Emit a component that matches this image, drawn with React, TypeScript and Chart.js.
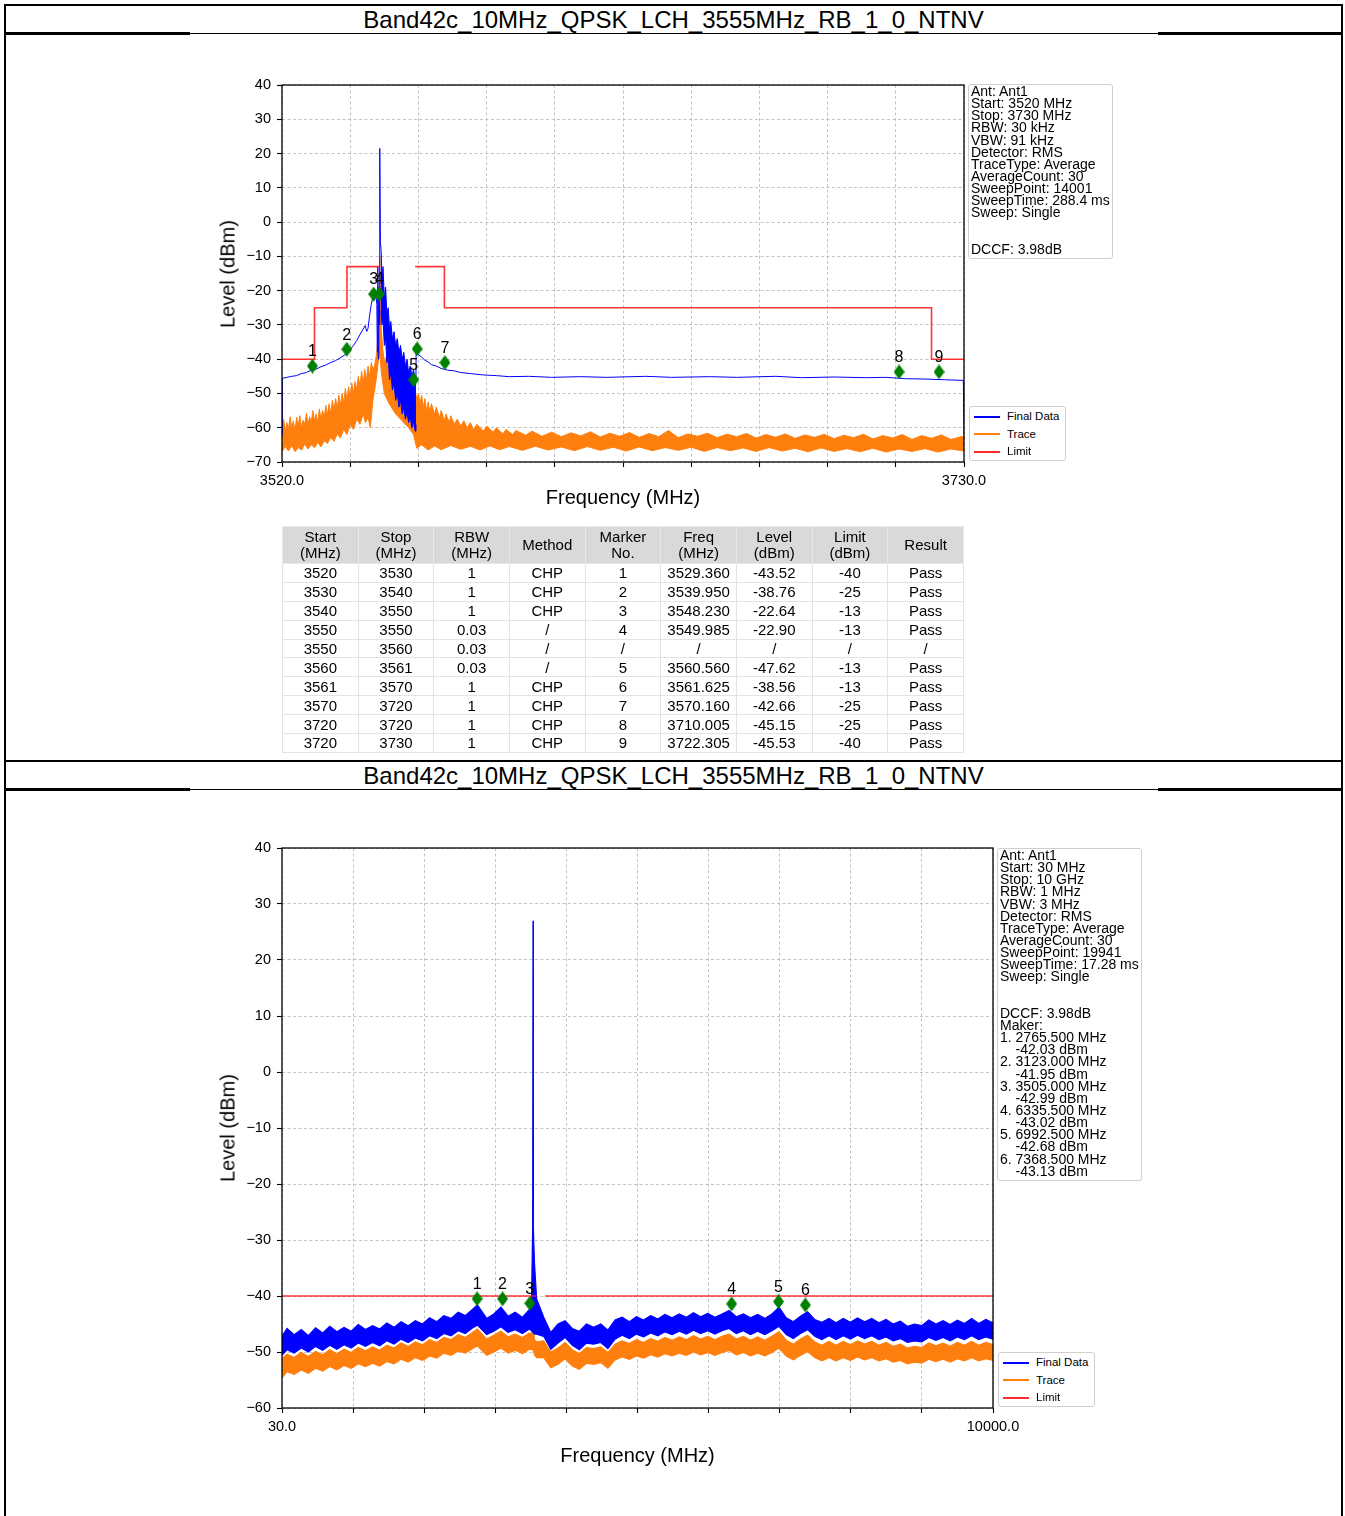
import React, { useEffect, useRef } from 'react';
import { Chart, registerables } from 'chart.js';

Chart.register(...registerables);

const FONT = '"Liberation Sans", Arial, Helvetica, sans-serif';

const pageTitle = 'Band42c_10MHz_QPSK_LCH_3555MHz_RB_1_0_NTNV';

// ---------------- Chart 1 (3520 - 3730 MHz) ----------------
const c1XTicks = [3520, 3541, 3562, 3583, 3604, 3625, 3646, 3667, 3688, 3709, 3730];
const c1YTicks = [-70, -60, -50, -40, -30, -20, -10, 0, 10, 20, 30, 40];

const c1FinalFreq = [
  3520, 3520.1, 3521.5, 3523, 3524.5, 3526, 3527.5, 3529, 3530.5, 3532, 3533.5, 3535, 3536.5, 3538, 3539.5,
  3541, 3542, 3543, 3544, 3545, 3545.6, 3546.1, 3546.5, 3547, 3547.5, 3548, 3548.4, 3548.8, 3549.2, 3549.35,
  3549.5, 3549.65, 3549.8, 3549.95, 3550.1, 3550.3, 3550.5,
  3555,
  3561.25, 3561.3, 3562, 3563, 3564, 3565, 3566, 3567.5, 3569, 3571, 3573, 3575, 3578, 3582, 3586, 3590, 3596,
  3603, 3612, 3620, 3632, 3640, 3652, 3660, 3672, 3680, 3690, 3700, 3706, 3712, 3718, 3724, 3729.8, 3730,
];
const c1FinalLevel = [
  -62, -45.6, -45.3, -45.0, -44.8, -44.2, -43.9, -43.2, -42.9, -42.2, -41.7, -41.0, -40.4, -39.6, -38.6,
  -37.2, -36.0, -34.6, -32.8, -31.2, -30.2, -31.9, -31.0, -27.0, -24.0, -21.5, -22.8, -20.0, -24.0, -38.0,
  -13.0, -40.0, -19.0, -30.0, 21.5, -6.0, -8.0,
  null,
  -45.0, -37.3, -38.6, -39.4, -40.3, -40.8, -41.6, -42.0, -42.7, -43.2, -43.4, -43.9, -44.2, -44.6, -44.8, -45.1, -45.0,
  -45.3, -45.1, -45.3, -45.0, -45.3, -45.1, -45.3, -45.0, -45.4, -45.2, -45.4, -45.3, -45.7, -45.8, -46.0, -46.2, -62,
];

const c1BandFreq = [
  3550.5, 3550.8, 3551.1, 3551.5, 3551.9, 3552.3, 3552.7, 3553.1, 3553.5, 3554, 3554.5, 3555, 3555.5,
  3556, 3556.5, 3557, 3557.5, 3558, 3558.5, 3559, 3559.5, 3560, 3560.5, 3561, 3561.25,
];
const c1BandUpper = [
  -8, -16, -13, -22, -19, -27, -25, -31, -29, -34, -32, -36, -34,
  -38, -36, -40, -38, -42, -40, -44, -42, -45, -43, -46, -45,
];
const c1BandLower = [
  -26, -30, -28, -36, -34, -41, -39, -46, -44, -49, -47, -52, -50,
  -54, -52, -56, -54, -57.5, -55.5, -58.5, -57, -60, -58, -61, -59,
];

const c1TraceUpperFreq = [
  3520, 3520.5, 3521, 3521.5, 3522, 3522.5, 3523, 3523.5, 3524, 3524.5, 3525, 3525.5, 3526, 3526.5, 3527,
  3527.5, 3528, 3528.5, 3529, 3529.5, 3530, 3530.5, 3531, 3531.5, 3532, 3532.5, 3533, 3533.5, 3534, 3534.5,
  3535, 3535.5, 3536, 3536.5, 3537, 3537.5, 3538, 3538.5, 3539, 3539.5, 3540, 3540.5, 3541, 3541.5, 3542,
  3542.5, 3543, 3543.5, 3544, 3544.5, 3545, 3545.5, 3546, 3546.5, 3547, 3547.5, 3548, 3548.5, 3549.2, 3549.7,
  3550.1, 3550.5, 3551, 3551.6, 3552.2, 3553, 3553.8, 3554.6, 3555.4, 3556.2, 3557, 3558, 3559, 3560,
  3561, 3561.5, 3562, 3562.5, 3563, 3563.5, 3564, 3564.5, 3565, 3565.5, 3566, 3567, 3567.5, 3568.5, 3569,
  3570, 3570.5, 3571.5, 3572, 3573, 3574, 3575, 3576, 3577, 3578, 3579, 3580, 3582, 3583, 3585, 3586, 3588,
  3589, 3591, 3592, 3595, 3597, 3600, 3603, 3606, 3609, 3612, 3615, 3618, 3621, 3624, 3627, 3630, 3633,
  3636, 3639, 3642, 3645, 3648, 3651, 3654, 3657, 3660, 3663, 3666, 3669, 3672, 3675, 3678, 3681, 3684,
  3687, 3690, 3693, 3696, 3699, 3702, 3705, 3708, 3711, 3714, 3717, 3720, 3723, 3726, 3730,
];
const c1TraceUpper = [
  -60, -57.5, -61, -58.5, -60.5, -56.8, -60, -58, -61, -57, -59.5, -56.5, -60, -57.8, -59,
  -55.8, -59, -56.8, -58.5, -55, -58, -56, -58.5, -54.5, -57.5, -55, -57, -53.5, -56.5, -53,
  -56, -52, -55, -51.5, -54.5, -50.5, -53.5, -50, -53, -48.5, -52, -48, -51, -47, -50,
  -46.5, -49, -45, -48, -43.5, -47, -43, -46, -42, -45, -41, -43, -42, -38, -30,
  -10, -30, -37, -41, -39, -44, -42, -46, -44, -48, -46, -49.5, -48, -51,
  -49.5, -51.5, -50, -53, -50.5, -54, -51.5, -55, -52.5, -55.5, -53, -56, -54, -57, -55,
  -58, -56, -58.5, -56.5, -59, -57.5, -59.5, -58, -60, -58.5, -60.5, -59, -61, -59.5, -61.3, -60, -61.8,
  -60.5, -62, -60.8, -62.2, -61, -62.5, -61.3, -62.6, -61.5, -62.4, -61.2, -62.7, -61.6, -62.5, -61.4, -62.8, -61.7,
  -62.6, -60.8, -62.9, -61.8, -62.5, -61.6, -62.9, -61.9, -62.6, -61.7, -63.0, -62.0, -62.8, -61.8, -63.1, -62.1, -62.8,
  -61.9, -63.2, -62.2, -62.9, -61.9, -63.3, -62.3, -63.0, -62.0, -63.4, -62.3, -63.1, -62.1, -63.4, -62.4, -63.2,
];
const c1TraceLowerFreq = [
  3520, 3521, 3522, 3523, 3524, 3525, 3526, 3527, 3528, 3529, 3530, 3531, 3532, 3533, 3534, 3535, 3536, 3537,
  3538, 3539, 3540, 3541, 3542, 3543, 3544, 3545, 3545.7, 3546.5, 3547.2, 3548, 3549, 3549.6, 3550.1, 3550.6,
  3551.5, 3553, 3555, 3557, 3559, 3560.5, 3561.5, 3563, 3565, 3567, 3569, 3572, 3575, 3578, 3581, 3584, 3587,
  3590, 3594, 3598, 3602, 3606, 3610, 3614, 3618, 3622, 3626, 3630, 3634, 3638, 3642, 3646, 3650, 3654, 3658,
  3662, 3666, 3670, 3674, 3678, 3682, 3686, 3690, 3694, 3698, 3702, 3706, 3710, 3714, 3718, 3722, 3726, 3730,
];
const c1TraceLower = [
  -67, -65.5, -66.8, -65.2, -67, -65.8, -66.5, -64.8, -66.2, -65, -65.8, -64.3, -65.6, -63.8, -64.6, -62.8, -64, -61.8,
  -63, -60.5, -62, -59, -60.5, -57.5, -59, -56, -58.5, -57, -60, -52, -46, -41, -38, -44,
  -50, -53, -56, -58, -60, -62, -66, -65, -66.5, -65.3, -66.4, -65.2, -66.3, -65.4, -66.5, -65.3, -66.4,
  -65.5, -66.6, -65.4, -66.5, -65.6, -66.7, -65.5, -66.6, -65.7, -66.8, -65.6, -66.7, -65.8, -66.6, -65.7, -66.9, -65.8, -66.7,
  -65.9, -66.9, -65.8, -66.8, -66.0, -67.0, -65.9, -66.9, -66.1, -67.0, -66.0, -67.1, -66.2, -66.9, -66.1, -67.1, -66.2, -66.8,
];

const c1LimitFreq = [3520, 3530, 3530, 3540, 3540, 3550, 3555, 3561, 3570, 3570, 3720, 3720, 3730];
const c1LimitLevel = [-40, -40, -25, -25, -13, -13, null, -13, -13, -25, -25, -40, -40];

const c1MarkerNo = ['1', '2', '3', '4', '5', '6', '7', '8', '9'];
const c1MarkerFreq = [3529.36, 3539.95, 3548.23, 3549.985, 3560.56, 3561.625, 3570.16, 3710.005, 3722.305];
const c1MarkerLevel = [-42.0, -37.1, -21.0, -21.0, -46.0, -37.0, -41.0, -43.7, -43.7];

const c1Info = [
  'Ant: Ant1', 'Start: 3520 MHz', 'Stop: 3730 MHz', 'RBW: 30 kHz', 'VBW: 91 kHz', 'Detector: RMS',
  'TraceType: Average', 'AverageCount: 30', 'SweepPoint: 14001', 'SweepTime: 288.4 ms', 'Sweep: Single',
  '', '', 'DCCF: 3.98dB',
];

// table under chart 1
const tableHeader = [
  ['Start', '(MHz)'], ['Stop', '(MHz)'], ['RBW', '(MHz)'], ['Method'], ['Marker', 'No.'],
  ['Freq', '(MHz)'], ['Level', '(dBm)'], ['Limit', '(dBm)'], ['Result'],
];
const tStart = ['3520', '3530', '3540', '3550', '3550', '3560', '3561', '3570', '3720', '3720'];
const tStop = ['3530', '3540', '3550', '3550', '3560', '3561', '3570', '3720', '3720', '3730'];
const tRbw = ['1', '1', '1', '0.03', '0.03', '0.03', '1', '1', '1', '1'];
const tMethod = ['CHP', 'CHP', 'CHP', '/', '/', '/', 'CHP', 'CHP', 'CHP', 'CHP'];
const tMarker = ['1', '2', '3', '4', '/', '5', '6', '7', '8', '9'];
const tFreq = ['3529.360', '3539.950', '3548.230', '3549.985', '/', '3560.560', '3561.625', '3570.160', '3710.005', '3722.305'];
const tLevel = ['-43.52', '-38.76', '-22.64', '-22.90', '/', '-47.62', '-38.56', '-42.66', '-45.15', '-45.53'];
const tLimit = ['-40', '-25', '-13', '-13', '/', '-13', '-13', '-25', '-25', '-40'];
const tResult = ['Pass', 'Pass', 'Pass', 'Pass', '/', 'Pass', 'Pass', 'Pass', 'Pass', 'Pass'];

// ---------------- Chart 2 (30 - 10000 MHz) ----------------
const c2XTicks = [30, 1027, 2024, 3021, 4018, 5015, 6012, 7009, 8006, 9003, 10000];
const c2YTicks = [-60, -50, -40, -30, -20, -10, 0, 10, 20, 30, 40];

const c2Freq = [
  30, 100, 200, 300, 400, 500, 600, 700, 800, 900, 1000, 1100, 1200, 1300, 1400, 1500, 1600, 1700, 1800, 1900,
  2000, 2100, 2200, 2300, 2400, 2500, 2600, 2700, 2770, 2900, 3000, 3100, 3200, 3300, 3400, 3500,
  3530, 3545, 3550, 3555, 3570,
  3600, 3700, 3800, 3900, 4000, 4100, 4200, 4300, 4400, 4500, 4600, 4700, 4800, 4900, 5000, 5100, 5200, 5300,
  5400, 5500, 5600, 5700, 5800, 5900, 6000, 6100, 6200, 6300, 6400, 6500, 6600, 6700, 6800, 6900, 7000, 7100,
  7200, 7300, 7400, 7500, 7600, 7700, 7800, 7900, 8000, 8100, 8200, 8300, 8400, 8500, 8600, 8700, 8800, 8900,
  9000, 9100, 9200, 9300, 9400, 9500, 9600, 9700, 9800, 9900, 10000,
];
const c2FinalUpper = [
  -47.2, -45.8, -46.9, -46.0, -47.1, -45.7, -46.6, -45.4, -46.4, -45.6, -46.3, -45.1, -46.0, -45.3, -45.9, -44.8, -45.6, -44.6, -45.3, -44.4,
  -45.0, -43.9, -44.6, -43.5, -44.0, -42.9, -43.5, -42.4, -41.6, -44.0, -43.2, -42.0, -43.6, -42.9, -43.8, -42.4,
  -40.0, -28.0, 27.0, -28.0, -34.0,
  -40.5, -43.8, -46.5, -45.0, -44.4, -45.8, -46.3, -45.0, -45.6, -45.0, -46.1, -44.3, -43.8, -44.6, -43.7, -44.3, -43.5, -44.1,
  -43.3, -43.9, -43.2, -43.8, -43.0, -43.7, -43.1, -43.8, -43.2, -42.6, -43.7, -43.2, -43.9, -43.3, -44.0, -43.2, -42.0, -43.9,
  -44.6, -43.6, -42.8, -44.2, -44.7, -44.0, -44.8, -44.0, -44.7, -43.9, -44.6, -44.0, -44.8, -44.2, -45.0, -44.5, -45.4, -45.0,
  -45.3, -44.3, -45.0, -44.4, -45.1, -44.3, -44.9, -44.0, -44.9, -44.2, -44.8,
];
const c2FinalLower = [
  -50.6, -49.6, -50.2, -49.3, -50.0, -49.0, -49.7, -48.8, -49.5, -48.7, -49.3, -48.4, -49.0, -48.3, -48.9, -48.0, -48.6, -47.7, -48.3, -47.5,
  -48.0, -47.1, -47.6, -46.7, -47.1, -46.2, -46.7, -45.7, -45.2, -46.9, -46.3, -45.5, -46.5, -46.0, -46.7, -45.9,
  -46.2, -46.4, -46.5, -46.5, -46.8,
  -46.8, -47.2, -49.5, -48.4, -47.4, -48.8, -49.6, -48.4, -48.6, -48.3, -49.4, -47.7, -47.0, -47.6, -46.8, -47.3, -46.6, -47.1,
  -46.4, -46.9, -46.3, -46.8, -46.1, -46.7, -46.2, -46.8, -46.2, -45.8, -46.7, -46.2, -46.9, -46.3, -46.9, -46.2, -45.4, -46.9,
  -47.6, -46.7, -46.0, -47.2, -47.8, -47.1, -47.8, -47.1, -47.7, -47.0, -47.6, -47.1, -47.8, -47.3, -48.0, -47.6, -48.3, -48.0,
  -48.2, -47.4, -47.9, -47.4, -48.0, -47.3, -47.8, -47.1, -47.8, -47.3, -47.7,
];
const c2TraceUpper = [
  -51.2, -50.4, -51.0, -50.1, -50.8, -49.9, -50.5, -49.6, -50.3, -49.5, -50.1, -49.2, -49.8, -49.1, -49.7, -48.8, -49.3, -48.4, -49.0, -48.2,
  -48.7, -47.8, -48.3, -47.4, -47.8, -46.9, -47.4, -46.5, -45.9, -47.7, -47.0, -46.3, -47.3, -46.8, -47.4, -46.6,
  -46.8, -45.5, -43.0, -46.0, -47.8,
  -48.2, -48.0, -50.0, -49.3, -48.3, -49.6, -50.3, -49.2, -49.4, -49.1, -50.1, -48.6, -48.0, -48.5, -47.8, -48.3, -47.6, -48.1,
  -47.4, -47.9, -47.3, -47.8, -47.1, -47.7, -47.2, -47.8, -47.2, -46.8, -47.7, -47.2, -47.9, -47.3, -47.9, -47.2, -46.4, -47.9,
  -48.6, -47.7, -47.0, -48.2, -48.8, -48.1, -48.8, -48.1, -48.7, -48.0, -48.6, -48.1, -48.8, -48.3, -49.0, -48.6, -49.3, -49.0,
  -49.2, -48.4, -48.9, -48.4, -49.0, -48.3, -48.8, -48.1, -48.8, -48.3, -48.7,
];
const c2TraceLower = [
  -54.6, -53.5, -54.0, -53.2, -53.8, -52.9, -53.4, -52.6, -53.2, -52.4, -52.9, -52.1, -52.6, -52.0, -52.5, -51.7, -52.1, -51.3, -51.8, -51.0,
  -51.5, -50.7, -51.1, -50.2, -50.6, -49.8, -50.2, -49.4, -48.9, -50.6, -50.0, -49.3, -50.2, -49.7, -50.3, -49.5,
  -49.6, -49.6, -49.6, -49.8, -50.5,
  -51.0, -51.0, -52.8, -52.2, -51.2, -52.5, -53.1, -52.0, -52.2, -51.9, -52.9, -51.4, -50.9, -51.3, -50.7, -51.1, -50.5, -50.9,
  -50.3, -50.7, -50.2, -50.6, -50.0, -50.5, -50.1, -50.6, -50.1, -49.7, -50.5, -50.1, -50.7, -50.2, -50.7, -50.1, -49.3, -50.7,
  -51.4, -50.6, -49.9, -51.0, -51.6, -51.0, -51.6, -51.0, -51.5, -50.9, -51.4, -51.0, -51.6, -51.2, -51.8, -51.5, -52.1, -51.8,
  -52.0, -51.3, -51.7, -51.3, -51.8, -51.2, -51.6, -51.0, -51.6, -51.2, -51.5,
];

const c2LimitFreq = [30, 3600, 3660, 3720, 10000];
const c2LimitLevel = [-40, -40, null, -40, -40];

const c2MarkerNo = ['1', '2', '3', '4', '5', '6'];
const c2MarkerFreq = [2765.5, 3123.0, 3505.0, 6335.5, 6992.5, 7368.5];
const c2MarkerLevel = [-40.5, -40.5, -41.3, -41.4, -41.0, -41.6];

const c2Info = [
  'Ant: Ant1', 'Start: 30 MHz', 'Stop: 10 GHz', 'RBW: 1 MHz', 'VBW: 3 MHz', 'Detector: RMS',
  'TraceType: Average', 'AverageCount: 30', 'SweepPoint: 19941', 'SweepTime: 17.28 ms', 'Sweep: Single',
  '', '', 'DCCF: 3.98dB', 'Maker:',
  '1. 2765.500 MHz', '    -42.03 dBm', '2. 3123.000 MHz', '    -41.95 dBm', '3. 3505.000 MHz', '    -42.99 dBm',
  '4. 6335.500 MHz', '    -43.02 dBm', '5. 6992.500 MHz', '    -42.68 dBm', '6. 7368.500 MHz', '    -43.13 dBm',
];

const legendItems = [
  { label: 'Final Data', color: '#0000ff' },
  { label: 'Trace', color: '#ff7f0e' },
  { label: 'Limit', color: '#ff2a2a' },
];

// ---------------- helpers ----------------
const BLUE = '#0000ff';
const ORANGE = '#ff7f0e';
const RED = 'rgba(255,20,20,0.85)';

const pts = (xs: number[], ys: (number | null)[]) => xs.map((x, i) => ({ x, y: ys[i] }));
const fmtTick = (v: number) => (v < 0 ? '\u2212' + Math.abs(v) : String(v));

function makeDiamond(w: number, h: number, color: string) {
  const c = document.createElement('canvas');
  c.width = w;
  c.height = h;
  const g = c.getContext('2d')!;
  g.fillStyle = color;
  g.beginPath();
  g.moveTo(w / 2, 0);
  g.lineTo(w, h / 2);
  g.lineTo(w / 2, h);
  g.lineTo(0, h / 2);
  g.closePath();
  g.fill();
  return c;
}

const framePlugin = {
  id: 'frameBox',
  afterDraw(chart: any) {
    const { ctx, chartArea: a } = chart;
    ctx.save();
    ctx.strokeStyle = '#000';
    ctx.lineWidth = 1.3;
    ctx.strokeRect(a.left, a.top, a.right - a.left, a.bottom - a.top);
    ctx.restore();
  },
};

const markerLabelPlugin = {
  id: 'markerLabels',
  afterDatasetsDraw(chart: any, _args: any, opts: any) {
    if (!opts || !opts.labels) return;
    const meta = chart.getDatasetMeta(opts.datasetIndex);
    const { ctx } = chart;
    ctx.save();
    ctx.fillStyle = '#000';
    ctx.font = `16px ${FONT}`;
    ctx.textAlign = 'center';
    ctx.textBaseline = 'middle';
    meta.data.forEach((el: any, i: number) => {
      ctx.fillText(opts.labels[i], el.x, el.y - 14);
    });
    ctx.restore();
  },
};

function axisCommon(ticksArr: number[], min: number, max: number) {
  return {
    type: 'linear' as const,
    min,
    max,
    afterBuildTicks: (s: any) => {
      s.ticks = ticksArr.map((v) => ({ value: v }));
    },
    grid: {
      color: '#b4b4b4',
      lineWidth: 0.8,
      drawTicks: true,
      tickLength: 5,
      tickColor: '#000',
      tickWidth: 1.1,
      tickBorderDash: [],
    },
    border: { display: false, dash: [3, 2.5] },
  };
}

type ChartSpec = {
  left: number;
  top: number;
  width: number;
  height: number;
  padTop: number;
  padRight: number;
  xMin: number;
  xMax: number;
  yMin: number;
  yMax: number;
  xTicks: number[];
  yTicks: number[];
  datasets: (diamond: HTMLCanvasElement) => any[];
  markerLabels: string[];
};

function SpectrumChart({ spec }: { spec: ChartSpec }) {
  const ref = useRef<HTMLCanvasElement | null>(null);
  useEffect(() => {
    const canvas = ref.current;
    if (!canvas) return;
    const diamond = makeDiamond(11, 15, '#008000');
    const xAxis: any = axisCommon(spec.xTicks, spec.xMin, spec.xMax);
    xAxis.afterFit = (s: any) => {
      s.height = 58;
    };
    xAxis.ticks = {
      autoSkip: false,
      maxRotation: 0,
      minRotation: 0,
      padding: 5,
      color: '#000',
      font: { size: 14.5, family: FONT },
      callback: (v: number) => (v === spec.xMin || v === spec.xMax ? Number(v).toFixed(1) : ''),
    };
    const yAxis: any = axisCommon(spec.yTicks, spec.yMin, spec.yMax);
    yAxis.afterFit = (s: any) => {
      s.width = 82;
    };
    yAxis.ticks = {
      autoSkip: false,
      padding: 6,
      color: '#000',
      font: { size: 14.5, family: FONT },
      callback: (v: number) => fmtTick(v),
    };
    const chart = new Chart(canvas, {
      type: 'line',
      data: { datasets: spec.datasets(diamond) },
      options: {
        animation: false,
        responsive: false,
        devicePixelRatio: 1,
        layout: { padding: { left: 0, top: spec.padTop, right: spec.padRight, bottom: 0 } },
        elements: { line: { tension: 0 }, point: { radius: 0 } },
        scales: { x: xAxis, y: yAxis },
        plugins: {
          legend: { display: false },
          tooltip: { enabled: false },
          markerLabels: { datasetIndex: 0, labels: spec.markerLabels },
        } as any,
      },
      plugins: [framePlugin, markerLabelPlugin],
    } as any);
    return () => chart.destroy();
  }, [spec]);
  return (
    <canvas
      ref={ref}
      width={spec.width}
      height={spec.height}
      style={{ position: 'absolute', left: spec.left, top: spec.top, width: spec.width, height: spec.height }}
    />
  );
}

const markerDataset = (xs: number[], ys: number[], diamond: HTMLCanvasElement) => ({
  label: 'markers',
  data: pts(xs, ys),
  showLine: false,
  pointStyle: diamond,
  pointRadius: 7,
  pointHoverRadius: 7,
  order: 0,
});

const limitDataset = (xs: number[], ys: (number | null)[]) => ({
  label: 'Limit',
  data: pts(xs, ys),
  borderColor: RED,
  borderWidth: 1.6,
  pointRadius: 0,
  spanGaps: false,
  fill: false,
  order: 1,
});

const bandPair = (label: string, xsU: number[], ysU: number[], xsL: number[], ysL: number[], color: string, order: number, bw: number) => [
  { label, data: pts(xsU, ysU), borderColor: color, borderWidth: bw, pointRadius: 0, fill: false, order },
  {
    label: label + ' lower',
    data: pts(xsL, ysL),
    borderColor: color,
    backgroundColor: color,
    borderWidth: bw,
    pointRadius: 0,
    fill: '-1',
    order,
  },
];

const spec1: ChartSpec = {
  left: 200,
  top: 60,
  width: 800,
  height: 460,
  padTop: 25,
  padRight: 36,
  xMin: 3520,
  xMax: 3730,
  yMin: -70,
  yMax: 40,
  xTicks: c1XTicks,
  yTicks: c1YTicks,
  markerLabels: c1MarkerNo,
  datasets: (diamond) => [
    markerDataset(c1MarkerFreq, c1MarkerLevel, diamond),
    limitDataset(c1LimitFreq, c1LimitLevel),
    {
      label: 'Final Data',
      data: pts(c1FinalFreq, c1FinalLevel),
      borderColor: BLUE,
      borderWidth: 1,
      pointRadius: 0,
      spanGaps: false,
      fill: false,
      order: 2,
    },
    ...bandPair('band', c1BandFreq, c1BandUpper, c1BandFreq, c1BandLower, BLUE, 2, 1),
    ...bandPair('Trace', c1TraceUpperFreq, c1TraceUpper, c1TraceLowerFreq, c1TraceLower, ORANGE, 3, 1),
  ],
};

const spec2: ChartSpec = {
  left: 200,
  top: 820,
  width: 840,
  height: 646,
  padTop: 28,
  padRight: 47,
  xMin: 30,
  xMax: 10000,
  yMin: -60,
  yMax: 40,
  xTicks: c2XTicks,
  yTicks: c2YTicks,
  markerLabels: c2MarkerNo,
  datasets: (diamond) => [
    markerDataset(c2MarkerFreq, c2MarkerLevel, diamond),
    limitDataset(c2LimitFreq, c2LimitLevel),
    ...bandPair('Final Data', c2Freq, c2FinalUpper, c2Freq, c2FinalLower, BLUE, 2, 1.2),
    ...bandPair('Trace', c2Freq, c2TraceUpper, c2Freq, c2TraceLower, ORANGE, 3, 1.2),
  ],
};

// ---------------- HTML pieces ----------------
const abs = (s: React.CSSProperties): React.CSSProperties => ({ position: 'absolute', ...s });

function TitleBar({ top }: { top: number }) {
  return (
    <>
      <div style={abs({ left: 4, top: top, width: 1339, height: 2, background: '#000' })} />
      <div
        style={abs({
          left: 6,
          top: top + 2,
          width: 1335,
          height: 27,
          lineHeight: '27px',
          textAlign: 'center',
          fontSize: 24,
          color: '#000',
          whiteSpace: 'nowrap',
        })}
      >
        {pageTitle}
      </div>
      <div style={abs({ left: 4, top: top + 29, width: 1339, height: 1, background: '#000' })} />
      <div style={abs({ left: 4, top: top + 28, width: 186, height: 2.5, background: '#000' })} />
      <div style={abs({ left: 1158, top: top + 28, width: 185, height: 2.5, background: '#000' })} />
    </>
  );
}

function InfoBox({ left, top, width, height, lines }: { left: number; top: number; width: number; height: number; lines: string[] }) {
  return (
    <div
      style={abs({
        left,
        top,
        width,
        height,
        boxSizing: 'border-box',
        border: '1.5px solid #cfcfcf',
        borderRadius: 3,
        background: '#fff',
        padding: '0 0 0 2px',
        fontSize: 14,
        lineHeight: '12.15px',
        color: '#000',
        whiteSpace: 'pre',
        overflow: 'hidden',
      })}
    >
      {lines.map((l, i) => (
        <div key={i} style={{ height: 12.15 }}>
          {l}
        </div>
      ))}
    </div>
  );
}

function Legend({ left, top }: { left: number; top: number }) {
  return (
    <div
      style={abs({
        left,
        top,
        width: 97,
        height: 55,
        boxSizing: 'border-box',
        border: '1.5px solid #cfcfcf',
        borderRadius: 3,
        background: '#fff',
      })}
    >
      {legendItems.map((it, i) => (
        <div key={i} style={abs({ left: 4, top: 1 + i * 17.5, height: 17.5, width: 92 })}>
          <div style={abs({ left: 0, top: 7.5, width: 26, height: 2, background: it.color })} />
          <div style={abs({ left: 33, top: 0, lineHeight: '17.5px', fontSize: 11.5, color: '#000', whiteSpace: 'nowrap' })}>
            {it.label}
          </div>
        </div>
      ))}
    </div>
  );
}

function AxisTitles({ cx, cy, xTitleY, yTitleX }: { cx: number; cy: number; xTitleY: number; yTitleX: number }) {
  return (
    <>
      <div
        style={abs({
          left: cx,
          top: xTitleY,
          transform: 'translate(-50%, -50%)',
          fontSize: 20,
          whiteSpace: 'nowrap',
          color: '#000',
        })}
      >
        Frequency (MHz)
      </div>
      <div
        style={abs({
          left: yTitleX,
          top: cy,
          transform: 'translate(-50%, -50%) rotate(-90deg)',
          fontSize: 20,
          whiteSpace: 'nowrap',
          color: '#000',
        })}
      >
        Level (dBm)
      </div>
    </>
  );
}

function ResultTable() {
  const cols = [tStart, tStop, tRbw, tMethod, tMarker, tFreq, tLevel, tLimit, tResult];
  const cell: React.CSSProperties = {
    border: '1px solid #e3e3e3',
    padding: 0,
    textAlign: 'center',
    height: 17.9,
    lineHeight: '17px',
    overflow: 'hidden',
    whiteSpace: 'nowrap',
  };
  return (
    <table
      style={abs({
        left: 282,
        top: 526,
        width: 682,
        borderCollapse: 'collapse',
        tableLayout: 'fixed',
        fontSize: 15,
        color: '#000',
        fontFamily: FONT,
      })}
    >
      <colgroup>
        {tableHeader.map((_, i) => (
          <col key={i} style={{ width: '11.111%' }} />
        ))}
      </colgroup>
      <thead>
        <tr style={{ height: 37 }}>
          {tableHeader.map((h, i) => (
            <th
              key={i}
              style={{
                ...cell,
                height: 36,
                lineHeight: '16.5px',
                fontWeight: 'normal',
                background: '#d9d9d9',
                border: '1px solid #e8e8e8',
              }}
            >
              {h.map((t, j) => (
                <div key={j}>{t}</div>
              ))}
            </th>
          ))}
        </tr>
      </thead>
      <tbody>
        {tStart.map((_, r) => (
          <tr key={r} style={{ height: 18.9 }}>
            {cols.map((c, ci) => (
              <td key={ci} style={cell}>
                {c[r]}
              </td>
            ))}
          </tr>
        ))}
      </tbody>
    </table>
  );
}

export default function App() {
  return (
    <div
      style={abs({
        left: 0,
        top: 0,
        width: 1345,
        height: 1516,
        overflow: 'hidden',
        background: '#fff',
        fontFamily: FONT,
      })}
    >
      <div style={abs({ left: 4, top: 4, width: 2, height: 1512, background: '#000' })} />
      <div style={abs({ left: 1341, top: 4, width: 2, height: 1512, background: '#000' })} />

      <TitleBar top={4} />
      <SpectrumChart spec={spec1} />
      <AxisTitles cx={623} cy={273.5} xTitleY={497} yTitleX={228} />
      <InfoBox left={968} top={84} width={145} height={175} lines={c1Info} />
      <Legend left={969} top={406} />
      <ResultTable />

      <TitleBar top={760} />
      <SpectrumChart spec={spec2} />
      <AxisTitles cx={637.5} cy={1128} xTitleY={1455} yTitleX={228} />
      <InfoBox left={997} top={848} width={145} height={333} lines={c2Info} />
      <Legend left={998} top={1352} />
    </div>
  );
}
